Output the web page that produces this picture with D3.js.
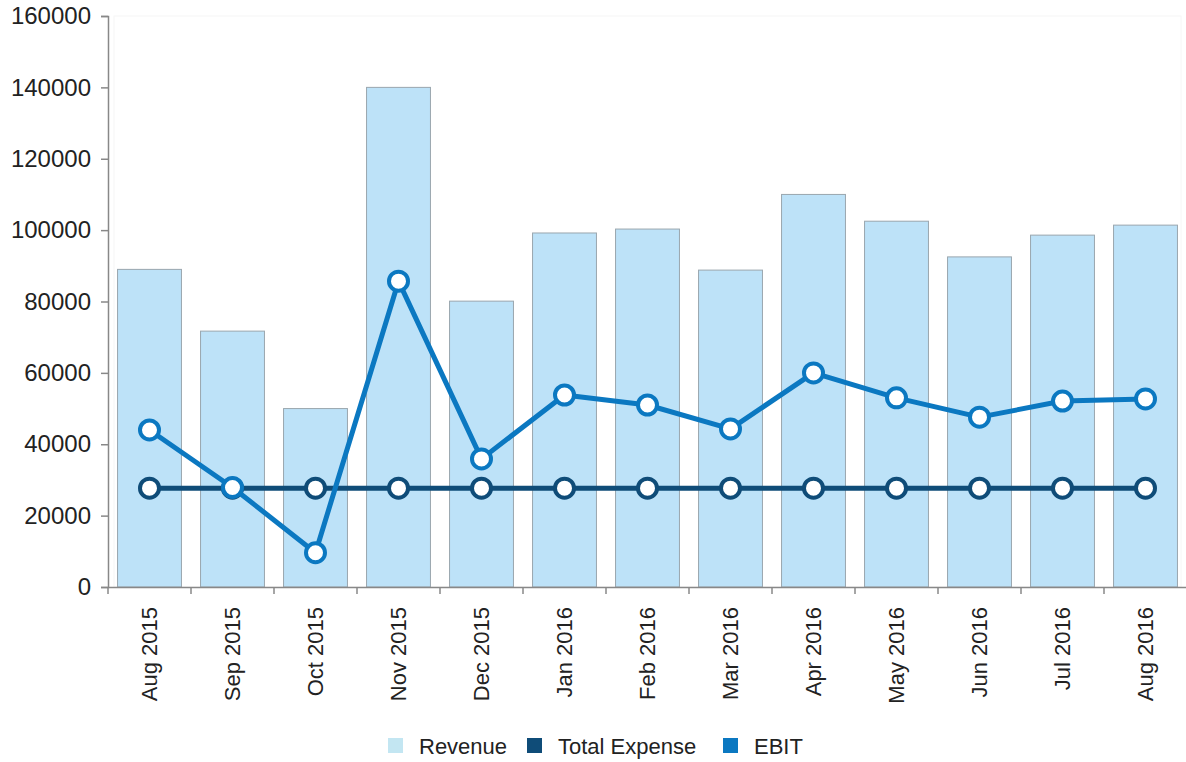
<!DOCTYPE html>
<html><head><meta charset="utf-8">
<script src="https://cdn.jsdelivr.net/npm/d3@7"></script>
<style>
body{margin:0;background:#fff;}
text{font-family:"Liberation Sans",Arial,sans-serif;fill:#222;}
</style></head><body>
<svg id="chart" width="1186" height="762"></svg>
<script>
const categories = ["Aug 2015","Sep 2015","Oct 2015","Nov 2015","Dec 2015","Jan 2016","Feb 2016","Mar 2016","Apr 2016","May 2016","Jun 2016","Jul 2016","Aug 2016"];
const revenue = [89000,71700,50000,140000,80100,99200,100300,88800,110000,102500,92500,98600,101400];
const totalExpense = [27700,27700,27700,27700,27700,27700,27700,27700,27700,27700,27700,27700,27700];
const ebit = [44000,27900,9600,85700,35900,53800,51000,44300,60000,53000,47600,52100,52700];
const yTicks = [0,20000,40000,60000,80000,100000,120000,140000,160000];
const seriesNames = ["Revenue","Total Expense","EBIT"];

const svg = d3.select("#chart");
const mLeft = 108, mRight = 1187, mTop = 16, mBottom = 587;
const x = d3.scaleBand().domain(categories).range([mLeft, mRight]).paddingInner(0.23).paddingOuter(0.115);
const y = d3.scaleLinear().domain([0,160000]).range([mBottom, mTop]);

// faint plot border
svg.append("rect").attr("x", mLeft+6).attr("y", mTop).attr("width", mRight-mLeft-12).attr("height", mBottom-mTop)
  .attr("fill","none").attr("stroke","#f6f6f6");

// bars
svg.append("g").selectAll("rect").data(revenue).join("rect")
  .attr("x",(d,i)=>x(categories[i])).attr("y",d=>y(d))
  .attr("width",x.bandwidth()).attr("height",d=>y(0)-y(d))
  .attr("fill","#bde2f8").attr("stroke","#9aa6ae").attr("stroke-width",1);

// axes
const yAxis = svg.append("g").attr("transform",`translate(${mLeft},0)`)
  .call(d3.axisLeft(y).tickValues(yTicks).tickFormat(d3.format("d")).tickSize(7).tickPadding(10));
yAxis.selectAll("text").style("font-size","24px").attr("fill","#222");
yAxis.selectAll("line,path").attr("stroke","#888").attr("stroke-width",1.5);

const xAxis = svg.append("g").attr("transform",`translate(0,${mBottom})`)
  .call(d3.axisBottom(x).tickSize(0).tickPadding(0));
xAxis.select(".domain").attr("stroke","#888").attr("stroke-width",1.5);
xAxis.selectAll("text").style("font-size","22px").attr("fill","#222")
  .attr("text-anchor","end").attr("dy","0.35em")
  .attr("transform","translate(0,20) rotate(-90)");
// boundary ticks
svg.append("g").selectAll("line").data(categories).join("line")
  .attr("x1",d=>x(d)-x.step()*0.115).attr("x2",d=>x(d)-x.step()*0.115)
  .attr("y1",mBottom).attr("y2",mBottom+7).attr("stroke","#888").attr("stroke-width",1.5);

// lines
function drawSeries(vals, color){
  const line = d3.line().x((d,i)=>x(categories[i])+x.bandwidth()/2).y(d=>y(d));
  svg.append("path").datum(vals).attr("d",line).attr("fill","none")
    .attr("stroke",color).attr("stroke-width",5).attr("stroke-linejoin","round");
  svg.append("g").selectAll("circle").data(vals).join("circle")
    .attr("cx",(d,i)=>x(categories[i])+x.bandwidth()/2).attr("cy",d=>y(d))
    .attr("r",9.5).attr("fill","#fff").attr("stroke",color).attr("stroke-width",4);
}
drawSeries(totalExpense, "#0f4c78");
drawSeries(ebit, "#0b78c1");

// legend
const legendColors = ["#c3e6f2","#0f4c78","#0b78c1"];
const lx = [388, 527, 723];
const lg = svg.append("g");
seriesNames.forEach((n,i)=>{
  lg.append("rect").attr("x",lx[i]).attr("y",738).attr("width",15).attr("height",15).attr("fill",legendColors[i]);
  lg.append("text").attr("x",lx[i]+31).attr("y",754).style("font-size","22px").text(n);
});
</script></body></html>
